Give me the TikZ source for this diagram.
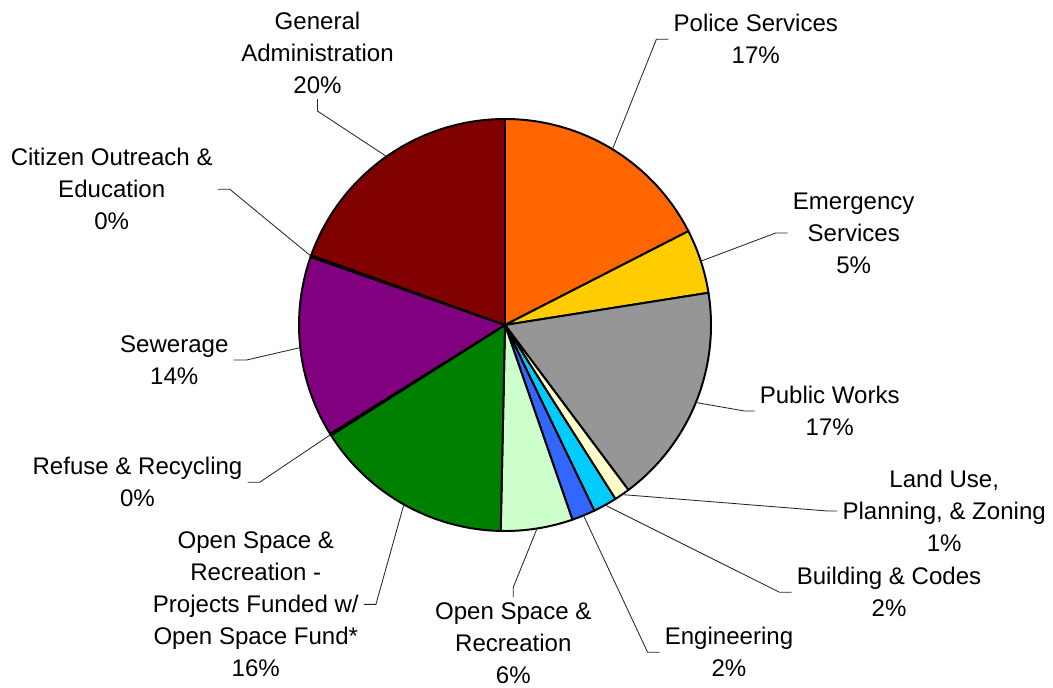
\documentclass[tikz,border=0pt]{standalone}
\usepackage{fontspec}
\setmainfont{Liberation Sans}
\usetikzlibrary{calc}
\definecolor{police}{HTML}{FF6600}
\definecolor{emerg}{HTML}{FFCC00}
\definecolor{pubworks}{HTML}{969696}
\definecolor{landuse}{HTML}{FFFFCC}
\definecolor{building}{HTML}{00CCFF}
\definecolor{engin}{HTML}{3366FF}
\definecolor{openspace}{HTML}{CCFFCC}
\definecolor{osfund}{HTML}{008000}
\definecolor{refuse}{HTML}{000080}
\definecolor{sewer}{HTML}{800080}
\definecolor{citizen}{HTML}{000000}
\definecolor{genadmin}{HTML}{800000}
\tikzset{
	wedge/.style={draw=black, line width=1.4pt, line join=round},
	leader/.style={draw=black!85, line width=0.6pt},
	slicelabel/.style={align=center, inner sep=3.5pt, font=\fontsize{17.1}{22.8}\selectfont},
}
\begin{document}
\begin{tikzpicture}[x=0.025cm, y=0.025cm]
		%%%%% START %%%%%
		\useasboundingbox (0, 0) rectangle (1053, 687);
		\coordinate (c) at (505, 362);
		\def\rad{206}
		
		% slices, clockwise from the top
		\foreach \a/\b/\col/\nm in {90/27.1/police/pol, 27.1/9.0/emerg/eme, 9.0/-53.2/pubworks/pub,
			-53.2/-57.6/landuse/lan, -57.6/-64.3/building/bui, -64.3/-70.9/engin/eng,
			-70.9/-91.2/openspace/osr, -91.2/-147.6/osfund/fun, -147.6/-148.1/refuse/ref,
			-148.1/-199.3/sewer/sew, -199.3/-199.8/citizen/cit, -199.8/-270/genadmin/gen}{
			\filldraw[wedge, fill=\col] (c) -- ($(c)+(\a:\rad)$) arc (\a:\b:\rad) -- cycle;
			\coordinate (e\nm) at ($(c)+({(\a+\b)/2}:\rad)$);
		}
		
		\node[slicelabel] (lGen) at (317.5, 634) {General\\Administration\\20\%};
		\node[slicelabel] (lPol) at (755.8, 647.8) {Police Services\\17\%};
		\node[slicelabel] (lEme) at (853.7, 454) {Emergency\\Services\\5\%};
		\node[slicelabel] (lPub) at (829.7, 276) {Public Works\\17\%};
		\node[slicelabel] (lLan) at (944.2, 176) {Land Use,\\Planning, \& Zoning\\1\%};
		\node[slicelabel] (lBui) at (889, 94.7) {Building \& Codes\\2\%};
		\node[slicelabel] (lEng) at (729, 34.7) {Engineering\\2\%};
		\node[slicelabel] (lOsr) at (513.3, 44) {Open Space \&\\Recreation\\6\%};
		\node[slicelabel] (lFun) at (255.8, 82.6) {Open Space \&\\Recreation -\\Projects Funded w/\\Open Space Fund*\\16\%};
		\node[slicelabel] (lRef) at (137.5, 204.7) {Refuse \& Recycling\\0\%};
		\node[slicelabel] (lSew) at (174.3, 327) {Sewerage\\14\%};
		\node[slicelabel] (lCit) at (111.7, 497.7) {Citizen Outreach \&\\Education\\0\%};
		
		% leader lines
		\draw[leader] (lGen.south) -- ++(0, -12) -- (egen);
		\draw[leader] (lPol.west) -- ++(-12, 0) -- (epol);
		\draw[leader] (lEme.west) -- ++(-12, 0) -- (eeme);
		\draw[leader] (lPub.west) -- ++(-10, 0) -- (epub);
		\draw[leader] (lLan.west) -- ++(-10, 0) -- (elan);
		\draw[leader] (lBui.west) -- ++(-12, 0) -- (ebui);
		\draw[leader] (lEng.west) -- ++(-12, 0) -- (eeng);
		\draw[leader] (lOsr.north) -- ++(0, 10) -- (eosr);
		\draw[leader] (lFun.east) -- ++(12, 0) -- (efun);
		\draw[leader] (lRef.east) -- ++(12, 0) -- (eref);
		\draw[leader] (lSew.east) -- ++(13, 0) -- (esew);
		\draw[leader] (lCit.east) -- ++(12, 0) -- (ecit);
		%%%%% END %%%%%
\end{tikzpicture}
\end{document}
